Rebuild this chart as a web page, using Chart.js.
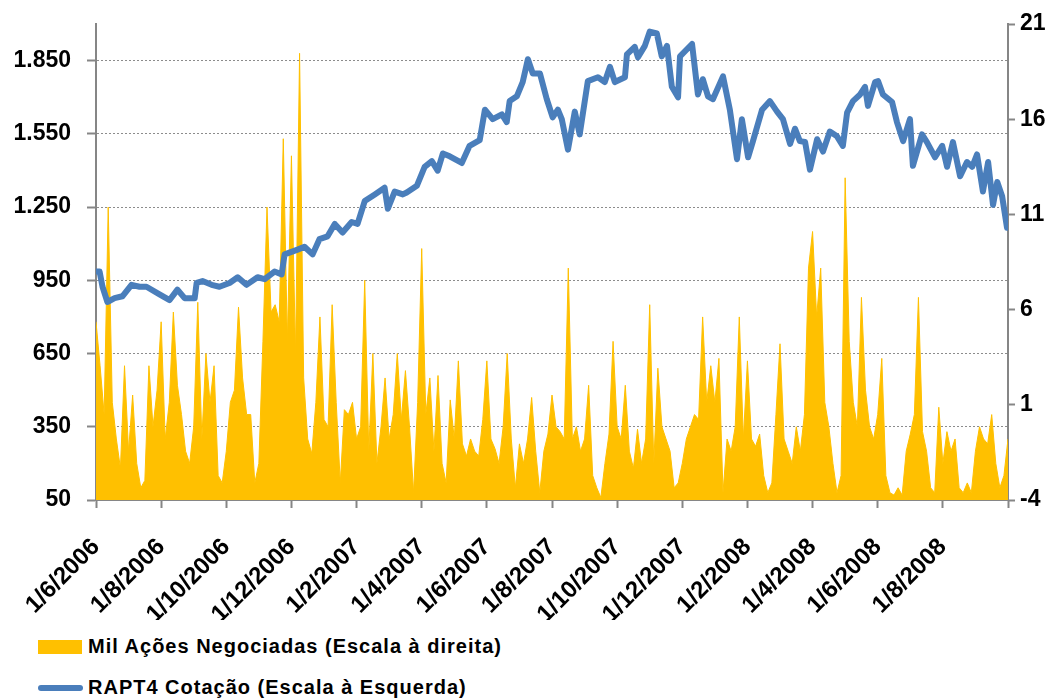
<!DOCTYPE html>
<html>
<head>
<meta charset="utf-8">
<script src="https://cdn.jsdelivr.net/npm/chart.js@4.4.1/dist/chart.umd.min.js"></script>
<style>
  body { margin: 0; background: #fff; width: 1061px; height: 698px; overflow: hidden; position: relative; }
  #grafico { position: absolute; left: 0; top: 0; }
  .legenda { position: absolute; left: 38px; display: flex; align-items: center;
    font-family: "Liberation Sans", Arial, sans-serif; font-weight: bold; font-size: 20px;
    letter-spacing: 1px; color: #000; white-space: nowrap; }
  .caixa { width: 44px; height: 14px; background: #FFC000; margin-right: 6px; }
  .traco { width: 45px; height: 6px; border-radius: 3px; background: #4A7EBB; margin-right: 5px; }
</style>
</head>
<body>
<canvas id="grafico" width="1061" height="620"></canvas>
<div class="legenda" style="top:635px"><div class="caixa"></div><span id="leg-volume"></span></div>
<div class="legenda" style="top:676px"><div class="traco"></div><span id="leg-cotacao"></span></div>

<script>
// Rótulos do eixo X (um a cada 2 meses, a partir de 1/6/2006)
const rotulos = ['1/6/2006', '1/8/2006', '1/10/2006', '1/12/2006', '1/2/2007', '1/4/2007', '1/6/2007',
  '1/8/2007', '1/10/2007', '1/12/2007', '1/2/2008', '1/4/2008', '1/6/2008', '1/8/2008'];

// Marcas dos eixos
const ticksEsquerda = [50, 350, 650, 950, 1250, 1550, 1850];
const ticksDireita = [-4, 1, 6, 11, 16, 21];
const ticksMeses = [0, 2, 4, 6, 8, 10, 12, 14, 16, 18, 20, 22, 24, 26, 28];

const nomeVolume = 'Mil Ações Negociadas (Escala à direita)';
const nomeCotacao = 'RAPT4 Cotação (Escala à Esquerda)';

// Mil ações negociadas, um valor a cada 1/8 de mês desde 1/6/2006
const volume = [
  780, 600, 400, 1250, 450, 300, 180, 600,
  250, 480, 200, 100, 130, 600, 350, 500,
  780, 300, 450, 820, 520, 400, 250, 200,
  350, 860, 300, 650, 450, 600, 150, 120,
  250, 450, 500, 840, 550, 400, 400, 120,
  200, 700, 1250, 820, 850, 780, 1530, 700,
  1460, 650, 1880, 550, 300, 240, 450, 800,
  380, 350, 850, 450, 120, 420, 400, 450,
  300, 350, 950, 250, 650, 200, 350, 550,
  300, 400, 650, 380, 580, 350, 80, 450,
  1080, 400, 550, 250, 560, 200, 120, 460,
  300, 620, 280, 230, 300, 250, 230, 380,
  620, 300, 260, 200, 350, 650, 300, 100,
  280, 200, 300, 470, 250, 80, 250, 320,
  480, 350, 330, 300, 1000, 300, 350, 250,
  300, 520, 150, 100, 60, 200, 320, 700,
  350, 300, 520, 250, 180, 340, 200, 300,
  850, 200, 590, 350, 300, 250, 100, 120,
  200, 300, 350, 400, 380, 800, 450, 600,
  450, 630, 80, 300, 250, 350, 800, 300,
  620, 300, 270, 320, 150, 80, 120, 400,
  690, 300, 250, 200, 350, 250, 400, 1000,
  1150, 800, 1000, 450, 350, 200, 80, 150,
  1370, 700, 450, 350, 880, 500, 350, 300,
  400, 630, 150, 80, 70, 100, 70, 250,
  320, 400, 880, 330, 250, 100, 80, 430,
  200, 330, 250, 300, 100, 80, 120, 80,
  250, 350, 300, 280, 400, 200, 100, 150,
  300
];

// Cotação RAPT4: [meses desde 1/6/2006, preço]
const cotacao = [
  [0, 8.0], [0.11, 8.0], [0.2, 7.2], [0.35, 6.4], [0.57, 6.6], [0.81, 6.7], [1.09, 7.3], [1.34, 7.2],
  [1.55, 7.2], [1.95, 6.8], [2.26, 6.5], [2.5, 7.05], [2.72, 6.6], [3.03, 6.6], [3.09, 7.4], [3.27, 7.5],
  [3.55, 7.3], [3.79, 7.2], [4.1, 7.4], [4.35, 7.7], [4.62, 7.3], [4.96, 7.7], [5.18, 7.6], [5.48, 8.0],
  [5.7, 7.85], [5.79, 8.9], [6.19, 9.15], [6.4, 9.3], [6.65, 8.9], [6.86, 9.7], [7.11, 9.85], [7.33, 10.5],
  [7.57, 10.05], [7.85, 10.6], [8.03, 10.5], [8.25, 11.7], [8.56, 12.05], [8.86, 12.4], [8.96, 11.3], [9.17, 12.2],
  [9.42, 12.05], [9.54, 12.15], [9.85, 12.5], [10.09, 13.5], [10.31, 13.8], [10.49, 13.3], [10.65, 14.2], [10.86, 14.05],
  [11.23, 13.7], [11.47, 14.6], [11.78, 14.9], [11.94, 16.5], [12.18, 16.0], [12.46, 16.25], [12.61, 15.85], [12.7, 16.95],
  [12.92, 17.2], [13.1, 17.95], [13.26, 19.15], [13.41, 18.4], [13.63, 18.4], [13.84, 17.05], [14.02, 16.1], [14.18, 16.5],
  [14.3, 16.0], [14.49, 14.4], [14.7, 16.4], [14.85, 15.2], [15.1, 18.0], [15.41, 18.2], [15.62, 17.95], [15.78, 18.75],
  [15.93, 17.95], [16.24, 18.2], [16.3, 19.4], [16.54, 19.8], [16.64, 19.25], [16.85, 19.85], [17.0, 20.6], [17.22, 20.5],
  [17.37, 19.3], [17.53, 19.85], [17.68, 17.7], [17.87, 17.15], [17.93, 19.3], [18.3, 19.95], [18.48, 17.3], [18.63, 18.1],
  [18.79, 17.2], [18.94, 17.05], [19.25, 18.25], [19.46, 16.5], [19.68, 13.9], [19.83, 16.0], [20.02, 14.0], [20.17, 14.85],
  [20.45, 16.5], [20.69, 16.95], [20.91, 16.4], [21.09, 16.0], [21.31, 14.7], [21.46, 15.5], [21.61, 14.85], [21.77, 14.8],
  [21.92, 13.35], [22.14, 14.95], [22.32, 14.3], [22.53, 15.35], [22.75, 15.1], [22.93, 14.6], [23.06, 16.35], [23.24, 16.95],
  [23.46, 17.3], [23.61, 17.7], [23.7, 16.7], [23.92, 17.95], [24.01, 18.0], [24.16, 17.3], [24.44, 16.9], [24.59, 15.85],
  [24.78, 14.85], [24.99, 16.0], [25.08, 13.55], [25.36, 15.2], [25.51, 14.8], [25.76, 14.0], [25.98, 14.6], [26.13, 13.5],
  [26.31, 14.8], [26.53, 13.0], [26.74, 13.75], [26.9, 13.5], [27.05, 14.15], [27.23, 12.2], [27.39, 13.75], [27.54, 11.5],
  [27.67, 12.7], [27.82, 11.95], [27.97, 10.3], [28, 10.6]
];

document.getElementById('leg-volume').textContent = nomeVolume;
document.getElementById('leg-cotacao').textContent = nomeCotacao;

const fonteEixo = { family: '"Liberation Sans", Arial, sans-serif', size: 23, weight: 'bold' };
const fonteDatas = { family: '"Liberation Sans", Arial, sans-serif', size: 24, weight: 'bold' };
const cinza = '#868686';

// Formato brasileiro: 1850 -> 1.850
function milhar(v) {
  return String(v).replace(/\B(?=(\d{3})+(?!\d))/g, '.');
}

// Largura fixa dos eixos verticais, sem folga extra no topo
function fixarLargura(largura) {
  return s => { s.width = largura; s.paddingTop = 0; s.paddingBottom = 0; };
}

new Chart(document.getElementById('grafico'), {
  type: 'line',
  data: {
    datasets: [
      {
        label: nomeCotacao,
        data: cotacao.map(([m, p]) => ({ x: m, y: p })),
        yAxisID: 'y1',
        borderColor: '#4A7EBB',
        borderWidth: 6,
        borderJoinStyle: 'round',
        borderCapStyle: 'round',
        pointRadius: 0,
        tension: 0,
        fill: false,
        order: 1
      },
      {
        label: nomeVolume,
        data: volume.map((v, i) => ({ x: i / 8, y: v })),
        yAxisID: 'y',
        borderColor: '#FFC000',
        borderWidth: 1,
        backgroundColor: '#FFC000',
        pointRadius: 0,
        tension: 0,
        fill: 'start',
        order: 2
      }
    ]
  },
  options: {
    responsive: false,
    animation: false,
    devicePixelRatio: 1,
    layout: { padding: { top: 24, left: 0, right: 0, bottom: 0 } },
    plugins: { legend: { display: false }, tooltip: { enabled: false } },
    scales: {
      x: {
        type: 'linear',
        min: 0,
        max: 28,
        afterBuildTicks: s => { s.ticks = ticksMeses.map(v => ({ value: v })); },
        afterFit: s => { s.height = 120; },
        grid: { drawOnChartArea: false, color: cinza, tickColor: cinza, tickWidth: 2, tickLength: 8 },
        border: { color: cinza, width: 2 },
        ticks: {
          autoSkip: false,
          maxRotation: 45,
          minRotation: 45,
          padding: 25,
          color: '#000',
          font: fonteDatas,
          callback: v => rotulos[v / 2] || ''
        }
      },
      y: {
        position: 'left',
        min: 50,
        max: 2000,
        afterBuildTicks: s => { s.ticks = ticksEsquerda.map(v => ({ value: v })); },
        afterFit: fixarLargura(96),
        grid: { color: '#8c8c8c', lineWidth: 1, tickColor: cinza, tickWidth: 2, tickLength: 9 },
        border: { color: cinza, width: 2, dash: [2, 2] },
        ticks: { padding: 16, color: '#000', font: fonteEixo, callback: v => milhar(v) }
      },
      y1: {
        position: 'right',
        min: -4,
        max: 21,
        afterBuildTicks: s => { s.ticks = ticksDireita.map(v => ({ value: v })); },
        afterFit: fixarLargura(53),
        grid: { drawOnChartArea: false, tickColor: cinza, tickWidth: 2, tickLength: 7 },
        border: { color: cinza, width: 2 },
        ticks: { padding: 5, color: '#000', font: fonteEixo }
      }
    }
  }
});
</script>
</body>
</html>
